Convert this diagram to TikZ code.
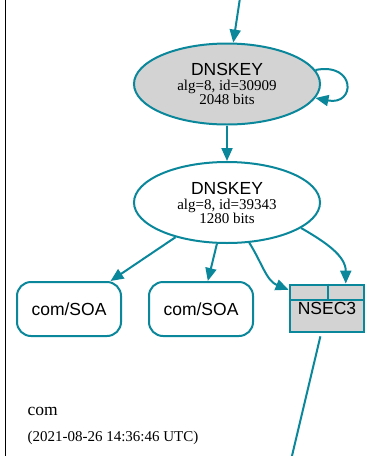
\documentclass[tikz,border=0pt]{standalone}
\usepackage{fontspec}
\setmainfont{Liberation Serif}
\setsansfont{Liberation Sans}
\usepackage{xcolor}
\usepackage{tikz}
\usetikzlibrary{positioning, arrows.meta, shapes.geometric}
\definecolor{dnsteal}{HTML}{0A879A}
\definecolor{keygray}{HTML}{D3D3D3}

\begin{document}
\begin{tikzpicture}[x=1pt, y=-1pt,
    keynode/.style={ellipse, draw=dnsteal, line width=2pt, minimum width=186pt,
                    minimum height=81pt, inner sep=0pt, align=center,
                    font=\fontsize{15}{14}\selectfont},
    rrnode/.style={rectangle, rounded corners=14pt, draw=dnsteal, line width=2pt,
                   minimum width=104pt, minimum height=54pt,
                   font=\sffamily\fontsize{17.5}{20}\selectfont},
    nsecnode/.style={rectangle, draw=dnsteal, line width=2.8pt, fill=keygray,
                     minimum width=74pt, minimum height=47pt, inner sep=0pt,
                     font=\sffamily\fontsize{17.5}{20}\selectfont},
    arr/.style={draw=dnsteal, line width=2pt, -{Triangle[length=13pt, width=11pt]}},
    plain/.style={draw=dnsteal, line width=2pt}]
  \useasboundingbox (0,0) rectangle (382,456);
  % zone border
  \draw[line width=0.8pt] (5.5,0) -- (5.5,456);

  \node[keynode, fill=keygray] (ksk) at (227,84)
    {{\sffamily\fontsize{17.5}{20}\selectfont DNSKEY}\\[1pt]alg=8, id=30909\\2048 bits};
  \node[keynode] (zsk) at (227,202.5)
    {{\sffamily\fontsize{17.5}{20}\selectfont DNSKEY}\\[1pt]alg=8, id=39343\\1280 bits};

  \node[rrnode] (soaA) at (69,309) {com/SOA};
  \node[rrnode] (soaB) at (201,309) {com/SOA};
  \node[nsecnode] (nsec) at (327,308.5) {\raisebox{-7pt}{NSEC3}};
  % header row of the NSEC3 box
  \draw[dnsteal, line width=2.8pt] (nsec.west |- 0,300) -- (nsec.east |- 0,300);
  \draw[dnsteal, line width=2.8pt] (nsec.north) ++(1,0) -- ++(0,16);

  \coordinate (parent) at (240,-2);
  \coordinate (below) at (291,460);

  \draw[arr] (parent) -- (ksk);
  \draw[arr] (ksk.9) .. controls (356,62) and (356,106) .. (ksk.-9);
  \draw[arr] (ksk) -- (zsk);
  \draw[arr] (zsk) -- (soaA);
  \draw[arr] (zsk) -- (soaB);
  \draw[arr] (zsk.-61) to[out=-58, in=158] (nsec.154);
  \draw[arr] (zsk.-19) to[out=-30, in=90] (nsec.53);
  \draw[plain, shorten <=3pt] (nsec) -- (below);

  \node[anchor=base west, font=\fontsize{17.5}{20}\selectfont] (zone) at (24,415) {com};
  \node[anchor=base west, font=\fontsize{15}{18}\selectfont] (stamp) at (24,441)
    {(2021-08-26 14:36:46 UTC)};
\end{tikzpicture}
\end{document}
